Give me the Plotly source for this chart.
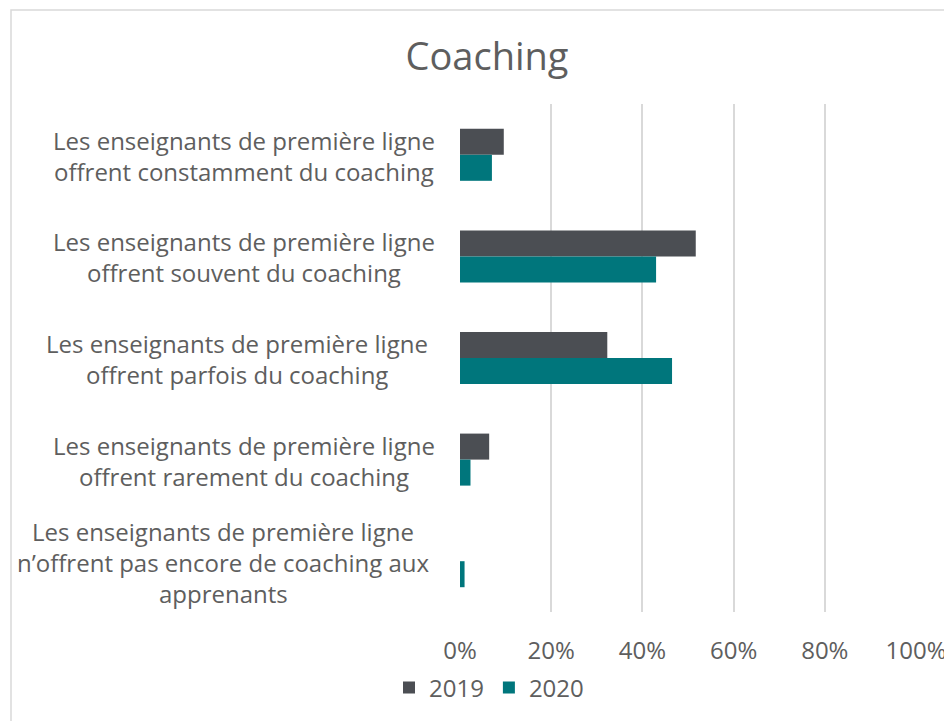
import plotly.graph_objects as go

categories = [
    "Les enseignants de première ligne<br>offrent constamment du coaching",
    "Les enseignants de première ligne<br>offrent souvent du coaching",
    "Les enseignants de première ligne<br>offrent parfois du coaching",
    "Les enseignants de première ligne<br>offrent rarement du coaching",
    "Les enseignants de première ligne<br>n’offrent pas encore de coaching aux<br>apprenants",
]
values_2019 = [0.096, 0.517, 0.323, 0.064, 0.0]
values_2020 = [0.070, 0.430, 0.465, 0.023, 0.010]
tick_vals = [0, 0.2, 0.4, 0.6, 0.8, 1.0]
tick_text = ["0%", "20%", "40%", "60%", "80%", "100%"]

OFF = 8  # page body margin
W, H = 952 - OFF, 721 - OFF
L, T = 460 - OFF, 104 - OFF
PW, PH = 456, 508
R = W - L - PW
B = H - T - PH

TXT = "#5E5E5E"
FONT = "Open Sans"


def px_x(sx):
    return (sx - OFF - L) / PW


def px_y(sy):
    return 1 - (sy - OFF - T) / PH


fig = go.Figure()
fig.add_trace(go.Bar(y=categories, x=values_2019, name="2019", orientation="h",
                     marker=dict(color="#4B4E53", line=dict(width=0))))
fig.add_trace(go.Bar(y=categories, x=values_2020, name="2020", orientation="h",
                     marker=dict(color="#00767C", line=dict(width=0))))

# category labels, one annotation per line, centered block
centers_px = [244, 244, 237, 244, 223]
line_h = 31
for cat, cx in zip(categories, centers_px):
    lines = cat.split("<br>")
    n = len(lines)
    for i, ln in enumerate(lines):
        off = (i - (n - 1) / 2) * line_h
        fig.add_annotation(x=px_x(cx), xref="paper", y=cat, yref="y",
                           text=ln, showarrow=False, xanchor="center", yanchor="middle",
                           yshift=-off - 1, font=dict(family=FONT, size=24, color=TXT))

# chart border
fig.add_shape(type="rect", xref="paper", yref="paper",
              x0=px_x(11), x1=px_x(980), y0=px_y(760), y1=px_y(10),
              line=dict(color="#D9D9D9", width=1.5), fillcolor="rgba(0,0,0,0)", layer="below")

fig.update_layout(
    width=W, height=H,
    margin=dict(l=L, r=R, t=T, b=B, autoexpand=False),
    paper_bgcolor="white", plot_bgcolor="white",
    barmode="group", bargap=0.488, bargroupgap=0,
    font=dict(family=FONT, color=TXT, size=24),
    title=dict(text="Coaching", x=(487 - OFF) / W, xanchor="center", xref="container",
               y=1 - (57 - OFF) / H, yanchor="middle", yref="container",
               font=dict(family=FONT, size=38, color=TXT)),
    legend=dict(orientation="h", x=(389 - OFF) / W, xanchor="left", xref="container",
                y=1 - (688 - OFF) / H, yanchor="middle", yref="container",
                font=dict(family=FONT, size=24, color=TXT), traceorder="normal"),
    showlegend=True,
)
fig.update_xaxes(range=[0, 1], tickvals=tick_vals, ticktext=tick_text,
                 showgrid=True, gridcolor="#D9D9D9", gridwidth=1.5,
                 zeroline=False, showline=False,
                 ticks="outside", ticklen=17, tickcolor="rgba(0,0,0,0)",
                 tickfont=dict(family=FONT, size=24, color=TXT), fixedrange=True)
fig.update_yaxes(autorange="reversed", showticklabels=False, showgrid=False,
                 zeroline=False, showline=False, ticks="")

fig.write_html("out.html")
